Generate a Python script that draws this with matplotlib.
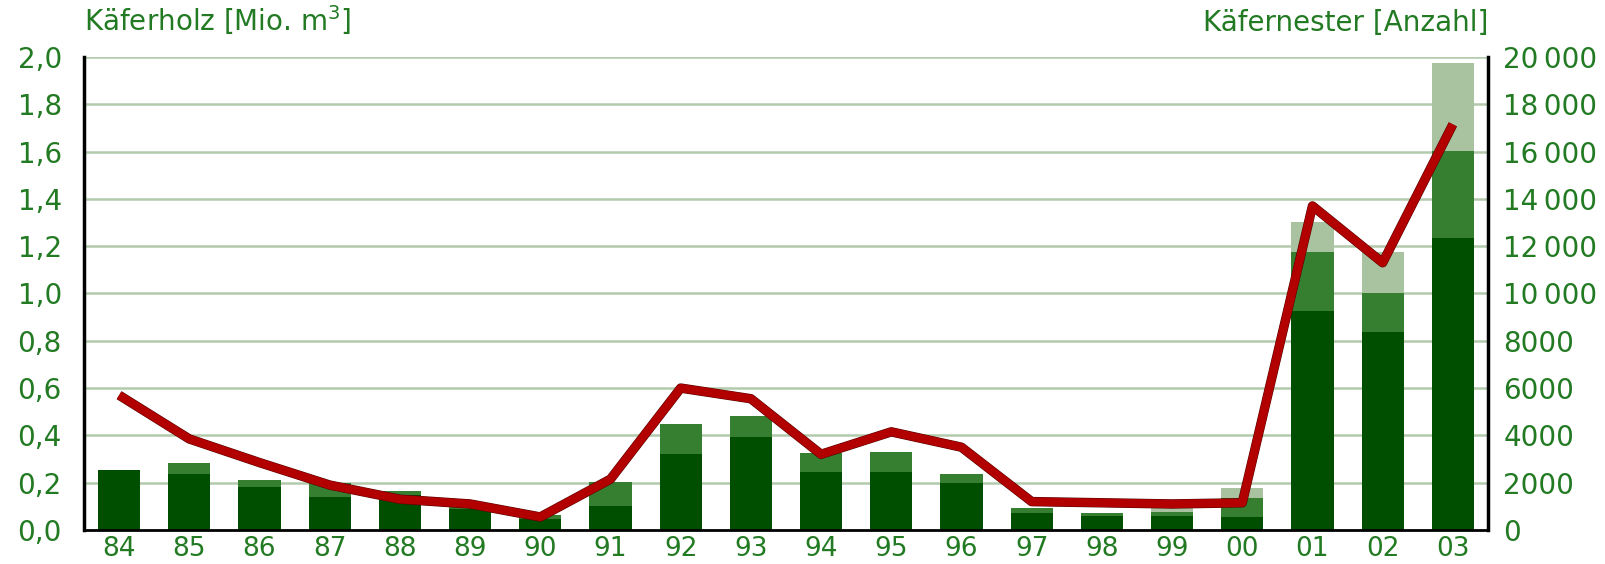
import matplotlib
matplotlib.use("Agg")
import numpy as np
import matplotlib.pyplot as plt
import matplotlib.patheffects as pe

years = ['84', '85', '86', '87', '88', '89', '90', '91', '92', '93',
         '94', '95', '96', '97', '98', '99', '00', '01', '02', '03']
holz_dark = [0.252, 0.237, 0.181, 0.140, 0.150, 0.090, 0.048, 0.103, 0.322, 0.393,
             0.245, 0.245, 0.197, 0.072, 0.058, 0.058, 0.056, 0.926, 0.839, 1.233]
holz_mid = [0.0, 0.046, 0.029, 0.058, 0.015, 0.022, 0.015, 0.100, 0.127, 0.087,
            0.079, 0.086, 0.038, 0.022, 0.014, 0.017, 0.080, 0.251, 0.164, 0.371]
holz_light = [0.0, 0.0, 0.0, 0.0, 0.0, 0.0, 0.0, 0.0, 0.0, 0.0,
              0.0, 0.0, 0.0, 0.0, 0.0, 0.020, 0.040, 0.125, 0.174, 0.371]
nester = [5700, 3850, 2850, 1900, 1300, 1100, 550, 2150, 6000, 5550,
          3200, 4150, 3500, 1200, 1150, 1100, 1150, 13700, 11300, 17150]

left_ticks = [0.0, 0.2, 0.4, 0.6, 0.8, 1.0, 1.2, 1.4, 1.6, 1.8, 2.0]
left_labels = ['0,0', '0,2', '0,4', '0,6', '0,8', '1,0', '1,2', '1,4', '1,6', '1,8', '2,0']
right_ticks = [0, 2000, 4000, 6000, 8000, 10000, 12000, 14000, 16000, 18000, 20000]
right_labels = ['0', '2000', '4000', '6000', '8000', '10\u2009000', '12\u2009000',
                '14\u2009000', '16\u2009000', '18\u2009000', '20\u2009000']

txt = '#227a22'
grid_c = '#b3cbad'
c_dark = '#004f00'
c_mid = '#367f31'
c_light = '#a9c3a0'
red = '#b20000'

plt.rcParams['font.family'] = ['DejaVu Sans']

fig = plt.figure(figsize=(16.06, 5.64), dpi=100)
ax = fig.add_axes([0.0523, 0.0603, 0.8742, 0.8387])

x = np.arange(len(years))
d = np.array(holz_dark)
m = np.array(holz_mid)
l = np.array(holz_light)
w = 0.6
ax.bar(x, d, w, color=c_dark, zorder=2)
ax.bar(x, m, w, bottom=d, color=c_mid, zorder=2)
ax.bar(x, l, w, bottom=d + m, color=c_light, zorder=2)

ax.set_xlim(-0.5, 19.5)
ax.set_ylim(0, 2.0)
ax.set_yticks(left_ticks)
ax.set_yticklabels(left_labels)
ax.set_xticks(x)
ax.set_xticklabels(years)
for yv in left_ticks[1:]:
    ax.axhline(yv, color=grid_c, lw=1.8, zorder=1)
ax.tick_params(axis='both', length=0, labelsize=20, colors=txt)
ax.tick_params(axis='y', pad=16)
ax.tick_params(axis='x', pad=4, labelsize=19)
for s in ['top', 'right']:
    ax.spines[s].set_visible(False)
ax.spines['left'].set_linewidth(2.5)
ax.spines['bottom'].set_linewidth(2.0)
ax.spines['left'].set_zorder(3)
ax.spines['bottom'].set_zorder(3)

ax2 = ax.twinx()
ax2.set_ylim(0, 20000)
ax2.set_yticks(right_ticks)
ax2.set_yticklabels(right_labels)
ax2.tick_params(axis='y', length=0, labelsize=20, colors=txt, pad=11)
for s in ['top', 'left', 'bottom']:
    ax2.spines[s].set_visible(False)
ax2.spines['right'].set_linewidth(2.5)
ax2.plot(x, nester, color=red, lw=6, solid_joinstyle='round', solid_capstyle='butt',
         path_effects=[pe.Stroke(linewidth=6.8, foreground='#5a0000'), pe.Normal()], zorder=4)

ax.text(0.0, 1.055, 'Käferholz [Mio. m$^3$]', transform=ax.transAxes, ha='left', va='baseline',
        fontsize=20, color=txt)
ax.text(1.0, 1.055, 'Käfernester [Anzahl]', transform=ax.transAxes, ha='right', va='baseline',
        fontsize=20, color=txt)

fig.savefig('out.png', dpi=100)
